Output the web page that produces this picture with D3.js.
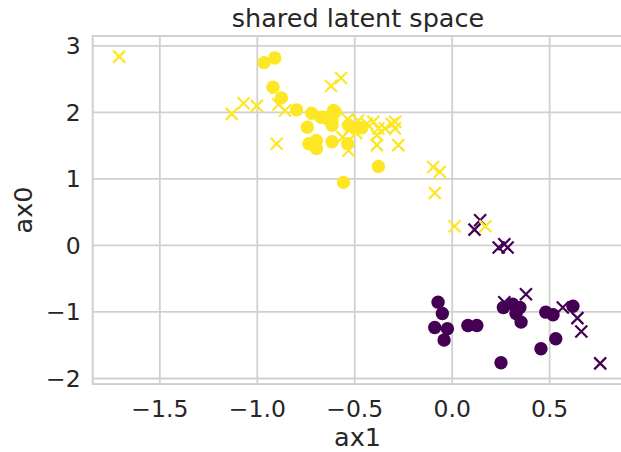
<!DOCTYPE html>
<html><head><meta charset="utf-8">
<script src="https://cdn.jsdelivr.net/npm/d3@7"></script>
<style>body{margin:0;background:#fff}</style>
</head><body>
<svg id="c" width="621" height="452"></svg>
<script>
// data: [ax1, ax0]
const yellowDots = [[-0.963,2.74],[-0.908,2.81],[-0.917,2.37],[-0.874,2.21],[-0.796,2.03],[-0.719,1.98],[-0.741,1.77],[-0.733,1.52],[-0.694,1.57],[-0.694,1.45],[-0.614,1.55],[-0.555,0.94],[-0.657,1.92],[-0.597,2.00],[-0.614,1.80],[-0.614,1.87],[-0.67,1.92],[-0.64,1.90],[-0.534,1.52],[-0.529,1.80],[-0.495,1.75],[-0.461,1.76],[-0.376,1.18],[-0.606,2.02]];
const yellowCrosses = [[-1.706,2.83],[-1.129,1.97],[-1.068,2.13],[-1.0,2.09],[-0.889,2.11],[-0.855,2.02],[-0.898,1.52],[-0.619,2.39],[-0.568,2.51],[-0.534,1.89],[-0.529,1.42],[-0.48,1.87],[-0.52,1.75],[-0.435,1.82],[-0.402,1.85],[-0.376,1.75],[-0.342,1.75],[-0.308,1.82],[-0.29,1.85],[-0.291,1.75],[-0.384,1.65],[-0.384,1.50],[-0.274,1.50],[-0.49,1.68],[-0.56,1.62],[-0.095,1.17],[-0.061,1.10],[-0.087,0.78],[0.015,0.28],[0.173,0.28]];
const purpleDots = [[-0.07,-0.86],[-0.048,-1.03],[-0.087,-1.24],[-0.022,-1.26],[-0.039,-1.43],[0.083,-1.21],[0.129,-1.21],[0.265,-0.94],[0.313,-0.89],[0.35,-0.94],[0.33,-1.03],[0.356,-1.16],[0.483,-1.01],[0.52,-1.05],[0.622,-0.92],[0.534,-1.41],[0.458,-1.56],[0.253,-1.77]];
const purpleCrosses = [[0.117,0.23],[0.146,0.37],[0.241,-0.04],[0.27,0.01],[0.287,-0.04],[0.381,-0.74],[0.27,-0.86],[0.57,-0.94],[0.645,-1.10],[0.665,-1.30],[0.762,-1.78]];
const xTicks = [-1.5,-1.0,-0.5,0.0,0.5];
const yTicks = [-2,-1,0,1,2,3];
const title = "shared latent space", xLabel = "ax1", yLabel = "ax0";

const svg = d3.select("#c");
const L = 92.7, R = 623.2, T = 36, B = 384;
const x = d3.scaleLinear().domain([-1.842, 0.88]).range([L, R]);
const y = d3.scaleLinear().domain([-2.09, 3.14]).range([B, T]);
const txt = "#262626", grid = "#d0d0d0";
const font = "DejaVu Sans, sans-serif";
const fmtX = d => d3.format(".1f")(d).replace("-", "\u2212");
const fmtY = d => d3.format("d")(d).replace("-", "\u2212");

const xAxis = d3.axisBottom(x).tickValues(xTicks).tickFormat(fmtX).tickSize(-(B - T)).tickPadding(15);
const yAxis = d3.axisLeft(y).tickValues(yTicks).tickFormat(fmtY).tickSize(-(R - L)).tickPadding(12);

const gx = svg.append("g").attr("transform", `translate(0,${B})`).call(xAxis);
const gy = svg.append("g").attr("transform", `translate(${L},0)`).call(yAxis);
[gx, gy].forEach(g => {
  g.select(".domain").remove();
  g.selectAll(".tick line").attr("stroke", grid).attr("stroke-width", 1.8);
  g.selectAll(".tick text").attr("fill", txt).style("font-family", font).style("font-size", "23.5px");
});
gy.selectAll(".tick text").attr("dy", "0.36em");
gx.selectAll(".tick text").attr("dy", "0.76em");

svg.append("rect").attr("x", L).attr("y", T).attr("width", R - L).attr("height", B - T)
  .attr("fill", "none").attr("stroke", grid).attr("stroke-width", 2);

const plot = svg.append("g");
const drawCross = (data, color) => {
  const s = 6;
  plot.append("g").selectAll("path").data(data).join("path")
    .attr("d", d => {
      const cx = x(d[0]), cy = y(d[1]);
      return `M${cx - s},${cy - s}L${cx + s},${cy + s}M${cx - s},${cy + s}L${cx + s},${cy - s}`;
    })
    .attr("stroke", color).attr("stroke-width", 2.2).attr("fill", "none");
};
const drawDots = (data, color) => {
  plot.append("g").selectAll("circle").data(data).join("circle")
    .attr("cx", d => x(d[0])).attr("cy", d => y(d[1])).attr("r", 6.7).attr("fill", color);
};
const yel = "#fde725", pur = "#440154";
drawDots(purpleDots, pur);
drawDots(yellowDots, yel);
drawCross(purpleCrosses, pur);
drawCross(yellowCrosses, yel);

svg.append("text").attr("x", (L + R) / 2).attr("y", 27).attr("text-anchor", "middle")
  .attr("fill", txt).style("font-family", font).style("font-size", "25.5px").text(title);
svg.append("text").attr("x", 357.5).attr("y", 446).attr("text-anchor", "middle")
  .attr("fill", txt).style("font-family", font).style("font-size", "25.5px").text(xLabel);
svg.append("text").attr("transform", `translate(32,${(T + B) / 2}) rotate(-90)`).attr("text-anchor", "middle")
  .attr("fill", txt).style("font-family", font).style("font-size", "25.5px").text(yLabel);
</script>
</body></html>
